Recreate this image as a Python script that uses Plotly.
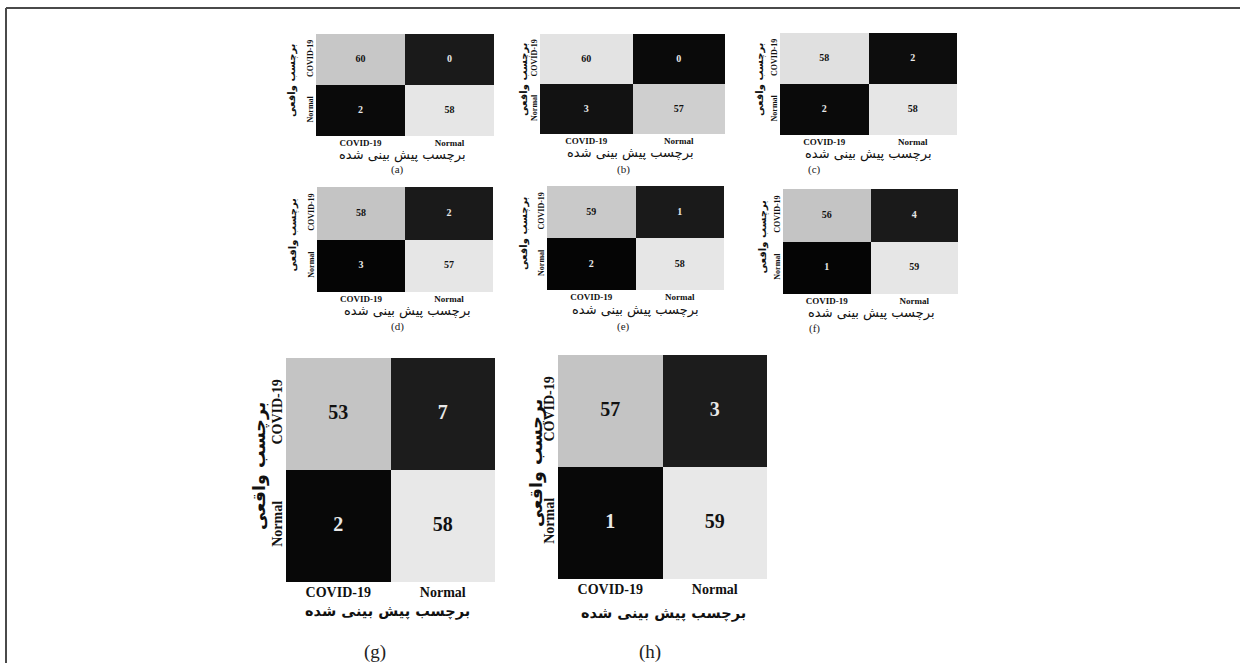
import plotly.graph_objects as go

W, H = 1240, 663

classes = ["COVID-19", "Normal"]
panel_labels = ["(a)", "(b)", "(c)", "(d)", "(e)", "(f)", "(g)", "(h)"]

# confusion-matrix counts (rows = true label, cols = predicted label)
counts_a = [[60, 0], [2, 58]]
counts_b = [[60, 0], [3, 57]]
counts_c = [[58, 2], [2, 58]]
counts_d = [[58, 2], [3, 57]]
counts_e = [[59, 1], [2, 58]]
counts_f = [[56, 4], [1, 59]]
counts_g = [[53, 7], [2, 58]]
counts_h = [[57, 3], [1, 59]]

# gray level of each cell as drawn in the picture (0 = black, 1 = white)
shade_a = [[0.78, 0.10], [0.04, 0.90]]
shade_b = [[0.89, 0.04], [0.07, 0.81]]
shade_c = [[0.88, 0.05], [0.04, 0.90]]
shade_d = [[0.77, 0.10], [0.02, 0.90]]
shade_e = [[0.79, 0.10], [0.02, 0.90]]
shade_f = [[0.77, 0.10], [0.02, 0.90]]
shade_g = [[0.77, 0.11], [0.03, 0.91]]
shade_h = [[0.77, 0.11], [0.03, 0.91]]

x_title = "برچسب پیش بینی شده"
y_title = "برچسب واقعی"

counts = [counts_a, counts_b, counts_c, counts_d, counts_e, counts_f, counts_g, counts_h]
shades = [shade_a, shade_b, shade_c, shade_d, shade_e, shade_f, shade_g, shade_h]

# layout (pixel boxes of heatmaps: x0, x1, y0, y1 from top-left)
boxes = [
    (316, 494, 34, 136), (540, 725, 34, 134), (780, 957, 33, 135),
    (317, 493, 187, 292), (547, 724, 186, 290), (783, 958, 189, 294),
    (286, 495, 358, 582), (558, 767, 355, 579),
]
captions_xy = [(397, 169), (623, 170), (814, 169),
               (397, 326), (623, 326), (814, 328),
               (375, 652), (650, 652)]
xtitle_xy = [(402, 155), (630, 153), (868, 154),
             (407, 311), (635, 310), (871, 313),
             (387, 611), (663, 613)]
ytitle_x = [292, 524, 760, 292, 524, 762, 260, 536]

def px(x):
    return x / W

def py(y):
    return 1 - y / H

fig = go.Figure()
annotations = []
serif = "Liberation Serif"
farsi = "DejaVu Sans"

for i in range(8):
    big = i >= 6
    x0, x1, y0, y1 = boxes[i]
    xa = "x" if i == 0 else f"x{i+1}"
    ya = "y" if i == 0 else f"y{i+1}"
    fig.add_trace(go.Heatmap(
        z=shades[i], x=classes, y=classes,
        colorscale=[[0, "#000000"], [1, "#ffffff"]], zmin=0, zmax=1,
        showscale=False, hoverinfo="skip", xaxis=xa, yaxis=ya,
    ))
    tx_, ty_, tt_, tc_ = [], [], [], []
    for r in range(2):
        for c in range(2):
            tx_.append(classes[c])
            ty_.append(classes[r])
            tt_.append(counts[i][r][c])
            tc_.append("#111111" if shades[i][r][c] > 0.5 else "#e8e8e8")
    fig.add_trace(go.Scatter(
        x=tx_, y=ty_, text=tt_, mode="text", texttemplate="<b>%{text}</b>",
        textposition="middle center",
        textfont=dict(family=serif, size=20 if big else 10, color=tc_),
        hoverinfo="skip", showlegend=False, xaxis=xa, yaxis=ya,
    ))
    lay_x = "xaxis" if i == 0 else f"xaxis{i+1}"
    lay_y = "yaxis" if i == 0 else f"yaxis{i+1}"
    tick_size = 14 if big else 9
    fig.layout[lay_x] = dict(
        domain=[px(x0), px(x1)], anchor=ya, showgrid=False, zeroline=False,
        showline=False, ticks="", ticklabelstandoff=0, range=[-0.5, 1.5],
        tickfont=dict(family=serif, size=tick_size, color="#111"),
        tickvals=classes, ticktext=[f"<b>{c}</b>" for c in classes],
    )
    fig.layout[lay_y] = dict(
        domain=[py(y1), py(y0)], anchor=xa, showgrid=False, zeroline=False,
        showline=False, ticks="", range=[1.5, -0.5], tickangle=-90,
        ticklabelstandoff=0,
        tickfont=dict(family=serif, size=tick_size if big else 8, color="#111"),
        tickvals=classes, ticktext=[f"<b>{c}</b>" for c in classes],
    )
    cx, cy = captions_xy[i]
    annotations.append(dict(x=px(cx), y=py(cy), xref="paper", yref="paper",
                            xanchor="center", yanchor="middle",
                            text=panel_labels[i], showarrow=False,
                            font=dict(family=serif, size=19 if big else 11, color="#222")))
    tx, ty = xtitle_xy[i]
    annotations.append(dict(x=px(tx), y=py(ty), xref="paper", yref="paper",
                            xanchor="center", yanchor="middle",
                            text=f"<b>{x_title}</b>" if big else x_title,
                            showarrow=False,
                            font=dict(family=farsi, size=14.5 if big else 13, color="#111")))
    annotations.append(dict(x=px(ytitle_x[i]), y=py((y0 + y1) / 2 - 4), xref="paper", yref="paper",
                            xanchor="center", yanchor="middle",
                            text=f"<b>{y_title}</b>", showarrow=False, textangle=-90,
                            font=dict(family=farsi, size=17.5 if big else 10, color="#111")))

fig.update_layout(
    width=W, height=H, margin=dict(l=0, r=0, t=0, b=0),
    paper_bgcolor="white", plot_bgcolor="white",
    annotations=annotations, showlegend=False,
    shapes=[
        dict(type="line", xref="paper", yref="paper", x0=px(6), x1=1, y0=py(8), y1=py(8),
             line=dict(color="#4a4a4a", width=2)),
        dict(type="line", xref="paper", yref="paper", x0=px(6), x1=px(6), y0=py(8), y1=0,
             line=dict(color="#4a4a4a", width=2)),
    ],
)

fig.write_html("out.html")
